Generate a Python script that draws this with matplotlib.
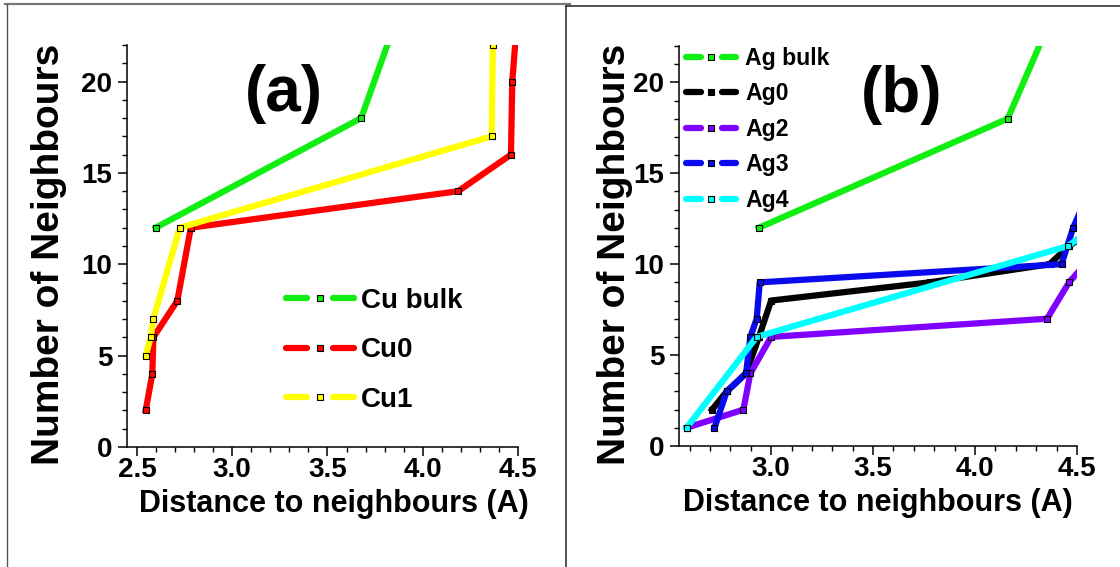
import matplotlib
matplotlib.use('Agg')
import matplotlib.pyplot as plt
from matplotlib.lines import Line2D
from matplotlib.legend_handler import HandlerBase
from matplotlib.ticker import MultipleLocator
from matplotlib import font_manager

# narrow bold font if we have it, otherwise shrink regular bold
names = {f.name for f in font_manager.fontManager.ttflist}
if 'Liberation Sans Narrow' in names:
    NARROW, K = 'Liberation Sans Narrow', 1.0
else:
    NARROW, K = 'Liberation Sans', 0.87

plt.rcParams['font.family'] = [NARROW, 'DejaVu Sans']
plt.rcParams['font.weight'] = 'bold'

# ---- data (a): Cu ----
cu_labels = ['Cu bulk', 'Cu0', 'Cu1']
cu_bulk_x = [2.598, 3.677, 4.500]
cu_bulk_y = [12, 18, 42]
cu0_x = [2.546, 2.581, 2.586, 2.712, 2.783, 4.186, 4.463, 4.470, 4.500]
cu0_y = [2, 4, 6, 8, 12, 14, 16, 20, 24]
cu1_x = [2.546, 2.572, 2.586, 2.725, 4.362, 4.368]
cu1_y = [5, 6, 7, 12, 17, 22]

# ---- data (b): Ag ----
ag_labels = ['Ag bulk', 'Ag0', 'Ag2', 'Ag3', 'Ag4']
ag_bulk_x = [2.939, 4.160, 5.090]
ag_bulk_y = [12, 18, 42]
ag0_x = [2.710, 2.782, 2.877, 2.940, 3.000, 3.777, 4.366, 4.460, 4.600]
ag0_y = [2, 3, 4, 6, 8, 9, 10, 11, 12]
ag2_x = [2.585, 2.864, 2.898, 3.000, 4.353, 4.461, 4.540]
ag2_y = [1, 2, 4, 6, 7, 9, 10]
ag3_x = [2.722, 2.782, 2.877, 2.898, 2.929, 2.944, 4.424, 4.481, 4.520]
ag3_y = [1, 3, 4, 6, 7, 9, 10, 12, 13]
ag4_x = [2.585, 2.929, 4.456, 4.580]
ag4_y = [1, 6, 11, 12]

GREEN, RED, YELLOW = '#11ee11', '#ff0000', '#ffff00'
BLACK, VIOLET, BLUE, CYAN = '#000000', '#8000ff', '#0a0aee', '#00ffff'

LW = 4.5
MS = 4.8


class GapHandler(HandlerBase):
    # origin style legend: line - marker - line
    def create_artists(self, legend, orig, xdescent, ydescent, width, height,
                       fontsize, trans):
        c = orig.get_color()
        y = height / 2 - ydescent
        x0 = -xdescent
        x1 = x0 + width
        xm = (x0 + x1) / 2
        g = width * 0.13
        cap = LW / 2
        a1 = Line2D([x0 + cap, xm - g - cap], [y, y], color=c, lw=LW,
                    solid_capstyle='round')
        a2 = Line2D([xm + g + cap, x1 - cap], [y, y], color=c, lw=LW,
                    solid_capstyle='round')
        m = Line2D([xm], [y], ls='none', marker='s', ms=MS, mfc=c,
                   mec='black', mew=0.8)
        for a in (a1, a2, m):
            a.set_transform(trans)
        return [a1, a2, m]


def draw(ax, xs, ys, colors, labels):
    lines = []
    for x, y, c, lab in zip(xs, ys, colors, labels):
        ln, = ax.plot(x, y, color=c, lw=LW, marker='s', ms=MS, mfc=c,
                      mec='black', mew=0.8, label=lab)
        lines.append(ln)
    return lines


def style(ax, xmin, ylabel_x):
    ax.set_xlim(xmin, 4.5)
    ax.set_ylim(0, 22)
    ax.spines['top'].set_visible(False)
    ax.spines['right'].set_visible(False)
    for s in ('left', 'bottom'):
        ax.spines[s].set_linewidth(1.1)
    ax.xaxis.set_major_locator(MultipleLocator(0.5))
    ax.xaxis.set_minor_locator(MultipleLocator(0.1))
    ax.yaxis.set_major_locator(MultipleLocator(5))
    ax.yaxis.set_minor_locator(MultipleLocator(1))
    ax.tick_params(which='major', length=6.5, width=1.1, labelsize=23 * K)
    ax.tick_params(which='minor', length=3.6, width=1.0)
    ax.tick_params(axis='x', which='major', pad=1)
    ax.tick_params(axis='y', which='major', pad=4)
    ax.set_xlabel('Distance to neighbours (A)', fontsize=22,
                  fontweight='bold')
    ax.set_ylabel('Number of Neighbours', fontsize=28,
                  family=['Liberation Sans', 'DejaVu Sans'], fontweight='bold')
    ax.yaxis.set_label_coords(ylabel_x, 0.478)


fig = plt.figure(figsize=(11.2, 5.67), dpi=100)
W, H = 1120.0, 567.0

ax1 = fig.add_axes([127 / W, 1 - 447 / H, 391 / W, 402 / H])
ax2 = fig.add_axes([679 / W, 1 - 446 / H, 398 / W, 400 / H])

h1 = draw(ax1, [cu_bulk_x, cu0_x, cu1_x], [cu_bulk_y, cu0_y, cu1_y],
          [GREEN, RED, YELLOW], cu_labels)
h2 = draw(ax2, [ag_bulk_x, ag0_x, ag2_x, ag3_x, ag4_x],
          [ag_bulk_y, ag0_y, ag2_y, ag3_y, ag4_y],
          [GREEN, BLACK, VIOLET, BLUE, CYAN], ag_labels)

style(ax1, 2.448, -0.153)
style(ax2, 2.548, -0.116)
ax1.xaxis.set_label_coords(0.53, -0.105)
ax2.xaxis.set_label_coords(0.50, -0.105)

fs1 = 23 * K
fig.legend(handles=h1, labels=cu_labels, handler_map={Line2D: GapHandler()},
           loc='upper left', bbox_to_anchor=(283 / W, 1 - 288 / H),
           frameon=False, fontsize=fs1, borderpad=0, borderaxespad=0,
           handlelength=2.65, handletextpad=0.17, labelspacing=0.84)
fs2 = 19 * K
fig.legend(handles=h2, labels=ag_labels, handler_map={Line2D: GapHandler()},
           loc='upper left', bbox_to_anchor=(683 / W, 1 - 47 / H),
           frameon=False, fontsize=fs2, borderpad=0, borderaxespad=0,
           handlelength=2.45, handletextpad=0.25, labelspacing=0.54)

fig.text(284 / W, 1 - 94 / H, '(a)', fontsize=46, fontweight='bold',
         ha='center', va='center')
fig.text(902 / W, 1 - 95 / H, '(b)', fontsize=46, fontweight='bold',
         ha='center', va='center')

# panel frames
fig.add_artist(Line2D([5 / W, 570 / W], [1 - 4 / H, 1 - 4 / H],
                      transform=fig.transFigure, color='#777777', lw=1.6))
fig.add_artist(Line2D([7 / W, 7 / W], [0, 1 - 4 / H],
                      transform=fig.transFigure, color='#555555', lw=1.0))
fig.add_artist(Line2D([566 / W, 1.0], [1 - 6 / H, 1 - 6 / H],
                      transform=fig.transFigure, color='#222222', lw=1.1))
fig.add_artist(Line2D([566 / W, 566 / W], [0, 1 - 6 / H],
                      transform=fig.transFigure, color='#222222', lw=1.1))

fig.savefig('out.png', dpi=100)
